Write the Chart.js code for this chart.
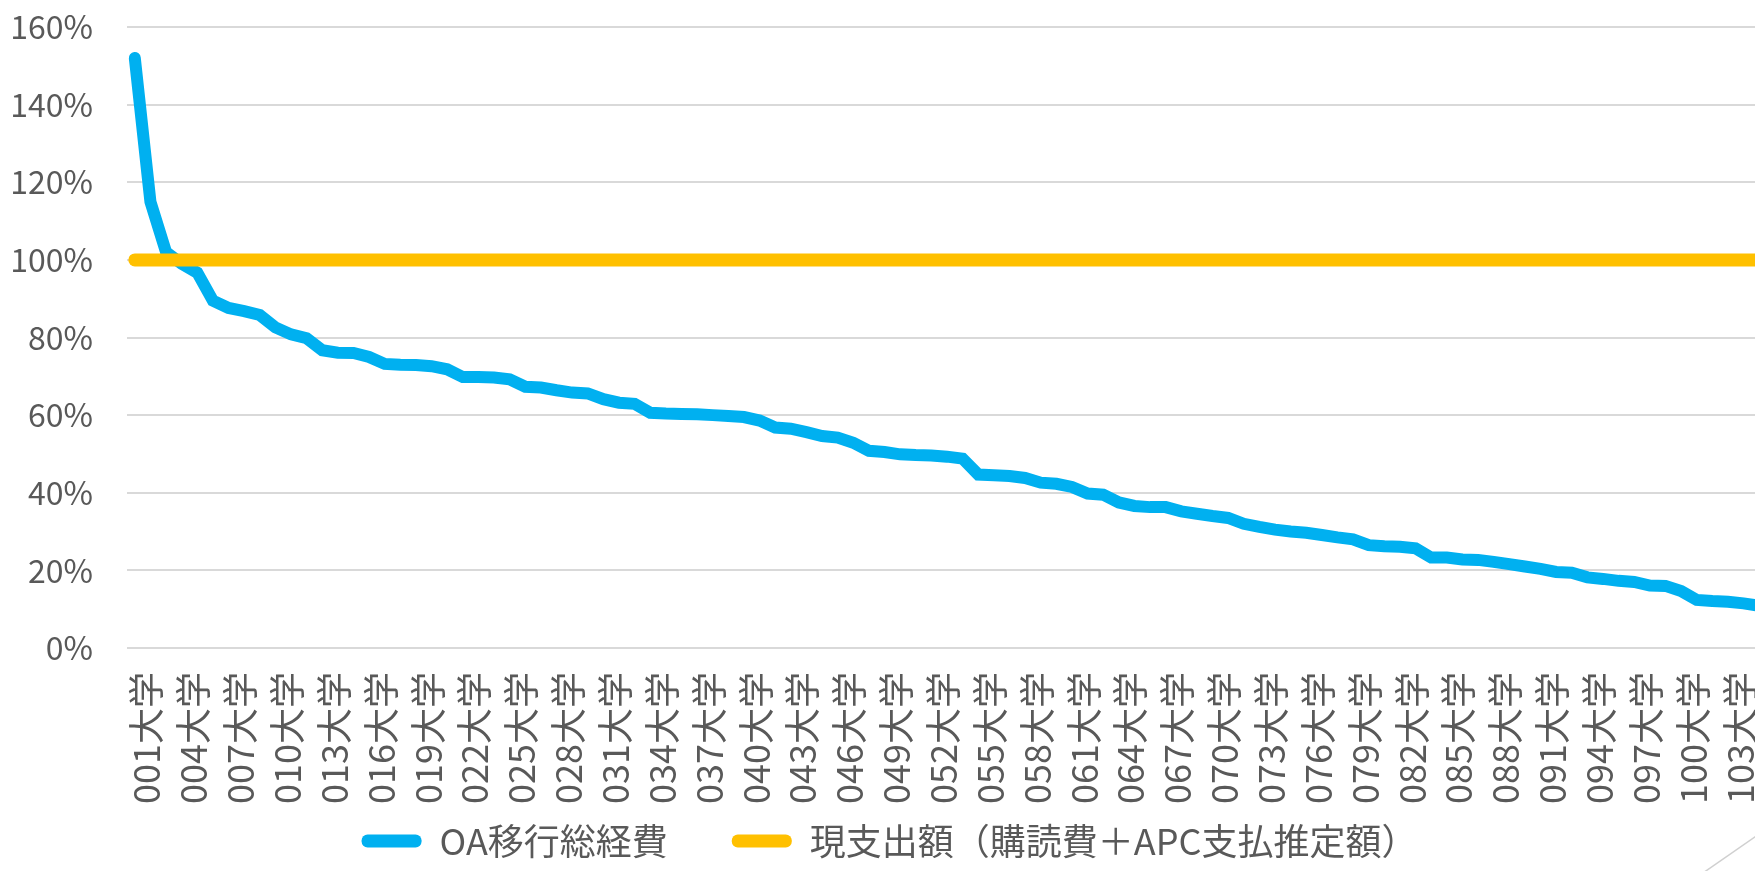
<!DOCTYPE html>
<html>
<head>
<meta charset="utf-8">
<script src="https://cdn.jsdelivr.net/npm/chart.js@4.4.0/dist/chart.umd.min.js"></script>
<style>
  html, body { margin: 0; padding: 0; background: #fff; overflow: hidden; }
  #wrap { position: relative; width: 1755px; height: 871px; overflow: hidden; }
  #deco { position: absolute; left: 0; top: 0; pointer-events: none; }
</style>
</head>
<body>
<div id="wrap">
  <canvas id="oaChart" width="1790" height="871"></canvas>
  <svg id="deco" width="1755" height="871">
    <line x1="1690" y1="882" x2="1762" y2="832" stroke="#d0d0d0" stroke-width="1.5"/>
  </svg>
</div>
<script>
// 105 universities, sorted by OA transition cost ratio
const universityCount = 105;
const categories = Array.from({ length: universityCount }, (_, i) => String(i + 1).padStart(3, '0') + '大学');

// OA移行総経費 (% of current spend)
const oaTotalCost = [
  152, 115, 102, 99, 96.7, 89.5, 87.6, 86.8, 85.8, 82.6,
  80.8, 79.8, 76.7, 76.1, 76, 75, 73.2, 73, 72.9, 72.6,
  71.8, 69.8, 69.8, 69.7, 69.2, 67.3, 67.1, 66.4, 65.8, 65.6,
  64.1, 63.2, 62.9, 60.6, 60.4, 60.3, 60.2, 60, 59.8, 59.5,
  58.6, 56.8, 56.5, 55.6, 54.6, 54.2, 52.9, 50.8, 50.5, 49.9,
  49.7, 49.6, 49.3, 48.8, 44.7, 44.5, 44.3, 43.8, 42.6, 42.3,
  41.5, 39.8, 39.5, 37.5, 36.6, 36.3, 36.3, 35.2, 34.6, 34,
  33.5, 32, 31.2, 30.5, 30, 29.7, 29.1, 28.5, 28, 26.5,
  26.2, 26.1, 25.7, 23.3, 23.3, 22.8, 22.7, 22.2, 21.6, 21,
  20.4, 19.6, 19.4, 18.2, 17.8, 17.3, 17, 16.1, 16, 14.7,
  12.4, 12.1, 11.9, 11.5, 10.9
];

// 現支出額 baseline (= 100%)
const currentSpend = categories.map(() => 100);

const yTicks = [0, 20, 40, 60, 80, 100, 120, 140, 160];

const seriesNames = ['OA移行総経費', '現支出額（購読費＋APC支払推定額）'];
const seriesColors = ['#00B0F0', '#FFC000'];

const textColor = '#595959';
const fontFamily = '"Noto Sans CJK JP", Roboto, sans-serif';

const ctx = document.getElementById('oaChart').getContext('2d');
new Chart(ctx, {
    type: 'line',
    data: {
        labels: categories,
        datasets: [
            {
                // drawn on top, listed second in legend
                label: seriesNames[1],
                data: currentSpend,
                borderColor: seriesColors[1],
                backgroundColor: seriesColors[1],
                borderWidth: 13,
                borderCapStyle: 'round',
                pointRadius: 0,
                fill: false
            },
            {
                label: seriesNames[0],
                data: oaTotalCost,
                borderColor: seriesColors[0],
                backgroundColor: seriesColors[0],
                borderWidth: 12,
                borderCapStyle: 'round',
                pointRadius: 0,
                tension: 0,
                fill: false
            }
        ]
    },
    options: {
        responsive: false,
        animation: false,
        layout: { padding: { left: 12, right: 23, top: 27, bottom: 2 } },
        scales: {
            x: {
                offset: true,
                grid: { display: false, drawTicks: false },
                border: { display: false },
                afterFit: function(axis) {
                    axis.paddingLeft = 0;
                    axis.paddingRight = 0;
                    axis.height = 165;
                },
                ticks: {
                    autoSkip: false,
                    maxRotation: 90,
                    minRotation: 90,
                    padding: 24,
                    labelOffset: 12,
                    color: textColor,
                    font: { family: fontFamily, size: 36 },
                    callback: function(val, index) {
                        return index % 3 === 0 ? categories[index] : '';
                    }
                }
            },
            y: {
                min: yTicks[0],
                max: yTicks[yTicks.length - 1],
                grid: { color: '#d9d9d9', lineWidth: 2, drawTicks: false },
                border: { display: false },
                afterBuildTicks: function(axis) {
                    axis.ticks = yTicks.map(v => ({ value: v }));
                },
                afterFit: function(axis) {
                    axis.width = 115;
                    axis.paddingTop = 0;
                    axis.paddingBottom = 0;
                },
                ticks: {
                    padding: 34,
                    color: textColor,
                    font: { family: fontFamily, size: 32 },
                    callback: function(v) { return v + '%'; }
                }
            }
        },
        plugins: {
            tooltip: { enabled: false },
            legend: {
                position: 'bottom',
                labels: {
                    boxWidth: 60,
                    boxHeight: 13,
                    useBorderRadius: true,
                    borderRadius: 6,
                    padding: 10,
                    color: textColor,
                    font: { family: fontFamily, size: 36 },
                    generateLabels: function(chart) {
                        return [1, 0].map((i, k) => ({
                            // trailing spaces widen the gap between the two entries
                            text: chart.data.datasets[i].label + (k === 0 ? '\u2003\u2002' : ''),
                            fillStyle: chart.data.datasets[i].borderColor,
                            strokeStyle: chart.data.datasets[i].borderColor,
                            lineWidth: 0,
                            borderRadius: 6,
                            fontColor: textColor,
                            datasetIndex: i
                        }));
                    }
                }
            }
        }
    }
});
</script>
</body>
</html>
